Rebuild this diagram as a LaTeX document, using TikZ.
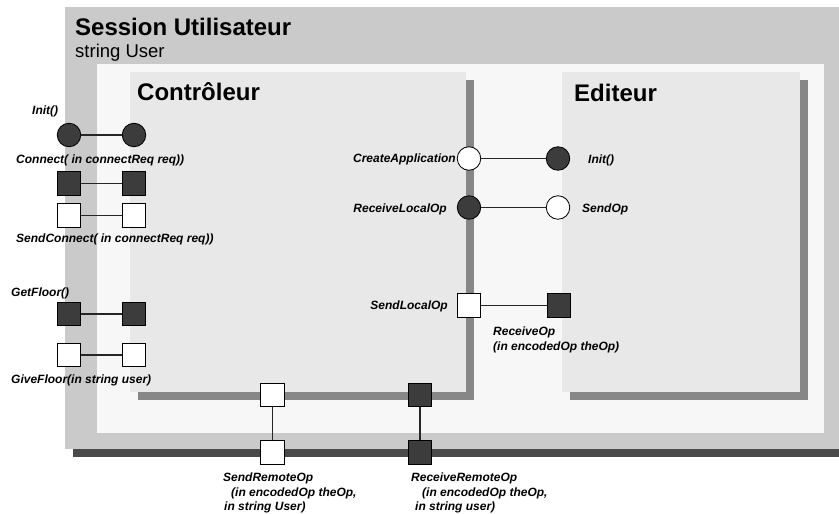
\documentclass[tikz,border=0pt]{standalone}
\usepackage{fontspec}
\setmainfont{Liberation Sans}
\definecolor{sessgray}{HTML}{CACACA}
\definecolor{sessshadow}{HTML}{4A4A4A}
\definecolor{innerbg}{HTML}{F7F7F7}
\definecolor{compbg}{HTML}{E8E8E8}
\definecolor{compshadow}{HTML}{878787}
\definecolor{portdark}{HTML}{3C3C3C}
\definecolor{wire}{HTML}{262626}
\begin{document}
\begin{tikzpicture}[x=1pt,y=-1pt,
  lbl/.style={font=\fontsize{12}{14}\selectfont\bfseries\itshape, inner sep=0pt},
  title/.style={font=\fontsize{24}{28}\selectfont\bfseries, inner sep=0pt, anchor=base west},
  portbase/.style={draw=black, line width=0.8pt, inner sep=0pt, minimum size=23.5pt},
  dcirc/.style={portbase, circle, fill=portdark},
  wcirc/.style={portbase, circle, fill=white},
  dsq/.style={portbase, rectangle, fill=portdark},
  wsq/.style={portbase, rectangle, fill=white},
  wireline/.style={draw=wire, line width=1.2pt}
]
\useasboundingbox (0,0) rectangle (839,514);
\fill[white] (0,0) rectangle (839,514);

% session container with its drop shadow
\fill[sessshadow] (73,15) rectangle (839,457);
\fill[sessgray] (65,7) rectangle (839,449);
\fill[innerbg] (97,64) rectangle (824,433);

% components
\fill[compshadow] (138,80) rectangle (474,400);
\fill[compbg] (130,72) rectangle (466,392);
\fill[compshadow] (570,80) rectangle (808,400);
\fill[compbg] (562,72) rectangle (800,392);

% titles
\node[title] (tsess) at (75,35) {Session Utilisateur};
\node[font=\fontsize{18.5}{22}\selectfont, inner sep=0pt, anchor=base west] (tuser) at (75,57) {string User};
\node[title] (tctrl) at (137,100) {Contrôleur};
\node[title] (tedit) at (574,101) {Editeur};

% left-hand ports
\node[dcirc] (ci1) at (69,135) {};
\node[dcirc] (ci2) at (134,135) {};
\node[dsq] (cn1) at (69,183.5) {};
\node[dsq] (cn2) at (134,183.5) {};
\node[wsq] (sc1) at (69,215.5) {};
\node[wsq] (sc2) at (134,215.5) {};
\node[dsq] (gf1) at (69,314) {};
\node[dsq] (gf2) at (134,314) {};
\node[wsq] (gv1) at (69,355) {};
\node[wsq] (gv2) at (134,355) {};
\draw[wireline] (ci1) -- (ci2);
\draw[wireline] (cn1) -- (cn2);
\draw[wireline] (sc1) -- (sc2);
\draw[wireline] (gf1) -- (gf2);
\draw[wireline] (gv1) -- (gv2);

\node[lbl, anchor=base west] (linit) at (32,114) {Init()};
\node[lbl, anchor=base west] (lconn) at (16,163) {Connect( in connectReq req))};
\node[lbl, anchor=base west] (lsconn) at (16,242) {SendConnect( in connectReq req))};
\node[lbl, anchor=base west] (lget) at (11,296) {GetFloor()};
\node[lbl, anchor=base west] (lgive) at (11,383) {GiveFloor(in string user)};

% ports between the two components
\node[wcirc] (ca) at (469,158.5) {};
\node[dcirc] (ei) at (558,158.5) {};
\node[dcirc] (rl) at (469,207.5) {};
\node[wcirc] (so) at (558,207.5) {};
\node[wsq] (sl) at (469,305.5) {};
\node[dsq] (ro) at (559,305.5) {};
\draw[wireline] (ca) -- (ei);
\draw[wireline] (rl) -- (so);
\draw[wireline] (sl) -- (ro);

\node[lbl, anchor=base east] (lca) at (456,162) {CreateApplication};
\node[lbl, anchor=base east] (lrl) at (447,212) {ReceiveLocalOp};
\node[lbl, anchor=base east] (lsl) at (448,309) {SendLocalOp};
\node[lbl, anchor=base west] (lei) at (588,163) {Init()};
\node[lbl, anchor=base west] (lso) at (582,212) {SendOp};
\node[lbl, anchor=base west] (lro1) at (493,335) {ReceiveOp};
\node[lbl, anchor=base west] (lro2) at (493,350) {(in encodedOp theOp)};

% remote ports on the bottom edge
\node[wsq] (sr1) at (272.5,395) {};
\node[wsq] (sr2) at (272.5,452.5) {};
\node[dsq] (rr1) at (420,395) {};
\node[dsq] (rr2) at (420,452.5) {};
\draw[wireline] (sr1) -- (sr2);
\draw[wireline] (rr1) -- (rr2);

\node[lbl, anchor=base west] (lsr1) at (223,481) {SendRemoteOp};
\node[lbl, anchor=base west] (lsr2) at (231,496) {(in encodedOp theOp,};
\node[lbl, anchor=base west] (lsr3) at (224,510) {in string User)};
\node[lbl, anchor=base west] (lrr1) at (411,481) {ReceiveRemoteOp};
\node[lbl, anchor=base west] (lrr2) at (422,496) {(in encodedOp theOp,};
\node[lbl, anchor=base west] (lrr3) at (415,510) {in string user)};
\end{tikzpicture}
\end{document}
